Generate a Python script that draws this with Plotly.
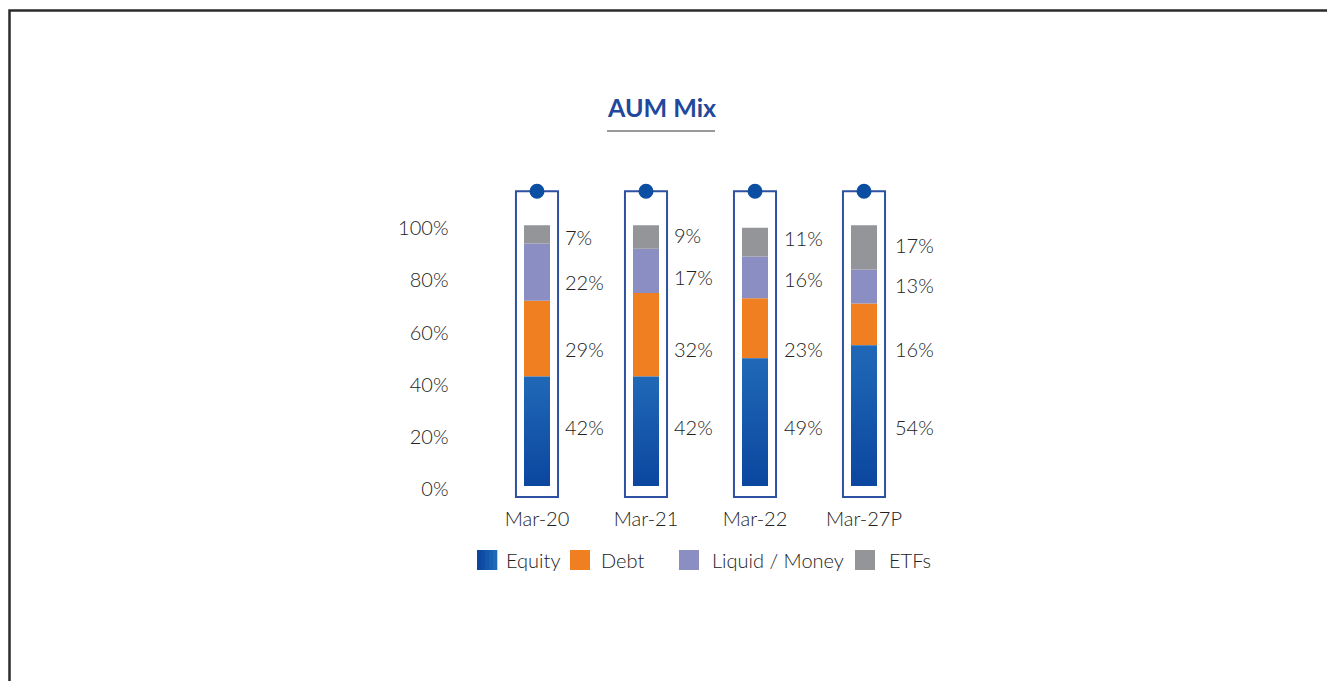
import plotly.graph_objects as go

# ---- data -------------------------------------------------------------
categories = ["Mar-20", "Mar-21", "Mar-22", "Mar-27P"]
equity = [42, 42, 49, 54]
debt = [29, 32, 23, 16]
liquid = [22, 17, 16, 13]
etfs = [7, 9, 11, 17]
y_ticks = [0, 20, 40, 60, 80, 100]
y_tick_labels = ["0%", "20%", "40%", "60%", "80%", "100%"]
legend_names = ["Equity", "Debt", "Liquid / Money", "ETFs"]

# ---- styling ----------------------------------------------------------
W, H = 1327, 681
FONT = "Lato"
TXT = "#222222"
C_DEBT = "#f07f21"
C_LIQ = "#8a8ec3"
C_ETF = "#939598"
EQ_DARK = "#0b469f"
EQ_LIGHT = "#2069b7"
BOX = "#2d50a0"
DOT = "#0b4ea2"
BAR_W = 0.2385
LIGHT = dict(family=FONT, size=20, color=TXT, weight=300)

# label heights (axis units) for each series, and label x offsets (px)
lab_y_etf = [95.4, 96.2, 95.0, 92.3]
lab_y_liq = [78.2, 80.1, 79.3, 77.0]
lab_y_debt = [52.5, 52.5, 52.5, 52.5]
lab_y_eq = [22.6, 22.6, 22.6, 22.6]
lab_dx = [26, 26, 27, 29]


def px(x):
    return x / W


def py(y):
    return 1 - y / H


idx = list(range(len(categories)))
base_liq = [e + d for e, d in zip(equity, debt)]
base_etf = [b + l for b, l in zip(base_liq, liquid)]

fig = go.Figure()

# equity segments with a vertical gradient fill
for i, v in zip(idx, equity):
    x0, x1 = i - BAR_W / 2, i + BAR_W / 2
    fig.add_trace(go.Scatter(
        x=[x0, x1, x1, x0, x0], y=[0, 0, v, v, 0],
        mode="lines", fill="toself", line=dict(width=0),
        fillgradient=dict(type="vertical", start=0, stop=v,
                          colorscale=[[0, EQ_DARK], [1, EQ_LIGHT]]),
        hoverinfo="skip", showlegend=False,
    ))

for vals, base, col, name in [
    (debt, equity, C_DEBT, "Debt"),
    (liquid, base_liq, C_LIQ, "Liquid / Money"),
    (etfs, base_etf, C_ETF, "ETFs"),
]:
    fig.add_trace(go.Bar(
        x=idx, y=vals, base=base, width=BAR_W, name=name,
        marker=dict(color=col, line=dict(width=0)), showlegend=False,
    ))

shapes = []
annotations = []

# outline boxes with a dot on top
for i in idx:
    shapes.append(dict(type="rect", xref="x", yref="y",
                       x0=i - 0.193, x1=i + 0.193, y0=-4.2, y1=113,
                       line=dict(color=BOX, width=2), fillcolor="rgba(0,0,0,0)",
                       layer="below"))
    shapes.append(dict(type="circle", xref="x", yref="y",
                       xsizemode="pixel", ysizemode="pixel",
                       xanchor=i, yanchor=113, x0=-7.5, x1=7.5, y0=-7.5, y1=7.5,
                       fillcolor=DOT, line=dict(width=0)))

# value labels
for vals, ys in [(etfs, lab_y_etf), (liquid, lab_y_liq),
                 (debt, lab_y_debt), (equity, lab_y_eq)]:
    for i, v, yy in zip(idx, vals, ys):
        annotations.append(dict(x=i, y=yy, xref="x", yref="y", text=f"{v}%",
                                showarrow=False, xanchor="left", yanchor="middle",
                                xshift=lab_dx[i], font=LIGHT))

# title and underline
annotations.append(dict(x=px(661), y=py(107), xref="paper", yref="paper",
                        text="<b>AUM Mix</b>", showarrow=False,
                        xanchor="center", yanchor="middle",
                        font=dict(family=FONT, size=25, color="#22489b", weight=900)))
shapes.append(dict(type="line", xref="paper", yref="paper",
                   x0=px(607), x1=px(715), y0=py(131), y1=py(131),
                   line=dict(color="#9a9a9a", width=2)))

# legend
leg_sq_x = [477, 570, 679, 855]
leg_txt_x = [504, 599, 710, 887]
leg_y = 560
leg_cols = [None, C_DEBT, C_LIQ, C_ETF]
eq_stripes = ["#0b469f", "#0f4ea6", "#1457ad", "#1a60b2", "#2069b7"]
for k, name in enumerate(legend_names):
    x0 = leg_sq_x[k]
    if leg_cols[k] is None:
        for s, c in enumerate(eq_stripes):
            shapes.append(dict(type="rect", xref="paper", yref="paper",
                               x0=px(x0 + 4 * s), x1=px(x0 + 4 * s + 4.3),
                               y0=py(leg_y + 10), y1=py(leg_y - 10),
                               fillcolor=c, line=dict(width=0)))
    else:
        shapes.append(dict(type="rect", xref="paper", yref="paper",
                           x0=px(x0), x1=px(x0 + 20),
                           y0=py(leg_y + 10), y1=py(leg_y - 10),
                           fillcolor=leg_cols[k], line=dict(width=0)))
    annotations.append(dict(x=px(leg_txt_x[k]), y=py(leg_y), xref="paper", yref="paper",
                            text=name, showarrow=False, xanchor="left", yanchor="middle",
                            font=LIGHT))

# frame
shapes.append(dict(type="rect", xref="paper", yref="paper",
                   x0=px(9.5), x1=px(W + 20), y0=py(H + 20), y1=py(10.5),
                   line=dict(color="#2b2b2b", width=2.5), fillcolor="rgba(0,0,0,0)"))

fig.update_layout(
    width=W, height=H,
    margin=dict(l=0, r=0, t=0, b=0),
    paper_bgcolor="white", plot_bgcolor="white",
    barmode="overlay",
    showlegend=False,
    shapes=shapes, annotations=annotations,
    font=LIGHT,
    xaxis=dict(domain=[px(482.5), px(918.5)], range=[-0.5, 3.5],
               tickvals=idx, ticktext=categories, showgrid=False,
               zeroline=False, showline=False, ticks="",
               ticklabelstandoff=3, tickfont=LIGHT),
    yaxis=dict(domain=[py(501.7), py(173)], range=[-6, 120],
               tickvals=y_ticks, ticktext=y_tick_labels, showgrid=False,
               zeroline=False, showline=False, ticks="",
               ticklabelstandoff=33, ticklabelshift=3, tickfont=LIGHT),
)

fig.write_html("out.html")
